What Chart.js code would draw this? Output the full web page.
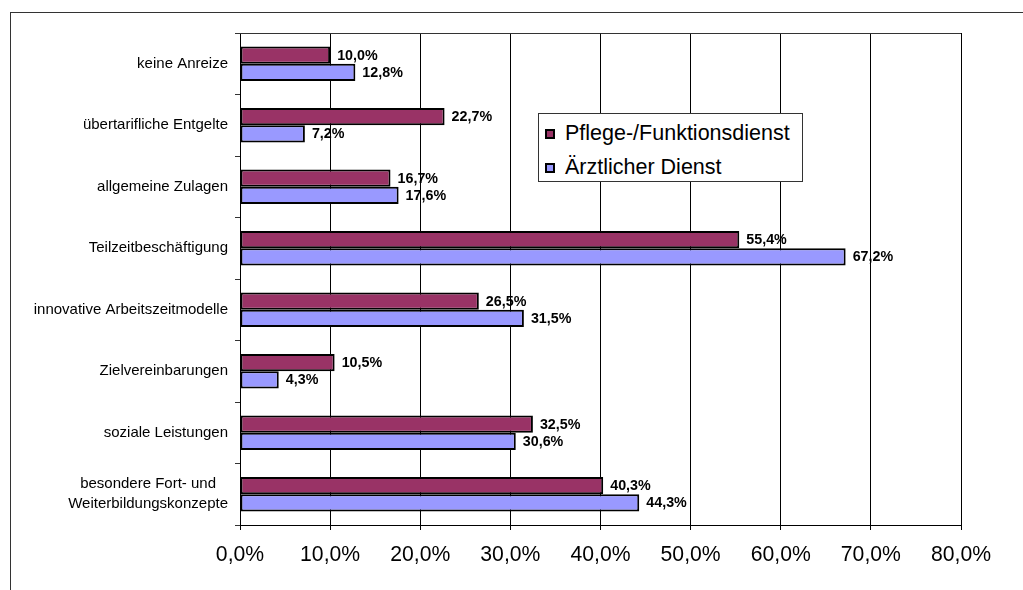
<!DOCTYPE html>
<html>
<head>
<title>Anreize</title>
<style>
  body { margin: 0; background: #fff; }
  #wrap { position: relative; width: 1023px; height: 590px; overflow: hidden; }
  #frame { position: absolute; left: 10px; top: 12px; width: 1100px; height: 700px;
           border-left: 1px solid #333; border-top: 1px solid #333; }
  #legend { position: absolute; left: 538px; top: 113px; width: 263px; height: 67px;
            border: 1px solid #333; background: #fff; font-family: Arial, "Liberation Sans", sans-serif;
            font-size: 21.5px; color: #000; }
  .item { position: absolute; left: 6px; height: 26px; line-height: 26px; white-space: nowrap; }
  .sq { position: absolute; left: 0; top: 9px; width: 6px; height: 6px; border: 2px solid #000; }
  .txt { position: absolute; left: 20px; top: 0; }
</style>
</head>
<body>
<div id="wrap">
  <div id="frame"></div>
  <canvas id="myChart" width="1023" height="590"></canvas>
  <div id="legend">
    <div class="item" style="top:6px"><span class="sq" style="background:#993366"></span><span class="txt">Pflege-/Funktionsdienst</span></div>
    <div class="item" style="top:40px"><span class="sq" style="background:#9999FF"></span><span class="txt">Ärztlicher Dienst</span></div>
  </div>
</div>
<script src="https://cdn.jsdelivr.net/npm/chart.js"></script>
<script>
// Kategorien (von oben nach unten)
const categories = [
  'keine Anreize',
  'übertarifliche Entgelte',
  'allgemeine Zulagen',
  'Teilzeitbeschäftigung',
  'innovative Arbeitszeitmodelle',
  'Zielvereinbarungen',
  'soziale Leistungen',
  ['besondere Fort- und', 'Weiterbildungskonzepte']
];
const pflege = [10.0, 22.7, 16.7, 55.4, 26.5, 10.5, 32.5, 40.3];
const aerzte = [12.8, 7.2, 17.6, 67.2, 31.5, 4.3, 30.6, 44.3];
const xTicks = [0, 10, 20, 30, 40, 50, 60, 70, 80];

const FONT = 'Arial, "Liberation Sans", sans-serif';

function pct(v) {
  return v.toFixed(1).replace('.', ',') + '%';
}

// Beschriftungen der Balken, Achsen und Kategorien selbst zeichnen
const labelPlugin = {
  id: 'labels',
  afterDatasetsDraw(chart) {
    const ctx = chart.ctx;
    const a = chart.chartArea;
    ctx.save();
    ctx.fillStyle = '#000';
    ctx.textBaseline = 'middle';

    // Werte an den Balken
    ctx.font = 'bold 14.3px ' + FONT;
    ctx.textAlign = 'left';
    chart.data.datasets.forEach((ds, i) => {
      chart.getDatasetMeta(i).data.forEach((bar, j) => {
        ctx.fillText(pct(ds.data[j]), bar.x + 7, bar.y + 0.5);
      });
    });

    // Rahmen oben
    ctx.strokeStyle = '#333';
    ctx.lineWidth = 1;
    ctx.beginPath();
    ctx.moveTo(a.left, a.top + 0.5);
    ctx.lineTo(a.right, a.top + 0.5);
    ctx.stroke();

    // x-Achse
    const x = chart.scales.x;
    ctx.font = '21.2px ' + FONT;
    ctx.textAlign = 'center';
    xTicks.forEach(v => {
      ctx.fillText(pct(v), x.getPixelForValue(v), 555);
    });

    // Kategorien
    const y = chart.scales.y;
    ctx.font = '15px ' + FONT;
    categories.forEach((c, i) => {
      const lines = Array.isArray(c) ? c : [c];
      const w = Math.max(...lines.map(l => ctx.measureText(l).width));
      const cx = a.left - 12 - w / 2;
      const cy = y.getPixelForValue(i);
      lines.forEach((l, k) => {
        ctx.fillText(l, cx, cy + (k - (lines.length - 1) / 2) * 20);
      });
    });
    ctx.restore();
  }
};

new Chart(document.getElementById('myChart'), {
  type: 'bar',
  data: {
    labels: categories,
    datasets: [
      { label: 'Pflege-/Funktionsdienst', data: pflege, backgroundColor: '#993366',
        borderColor: '#000', borderWidth: 2, borderSkipped: false },
      { label: 'Ärztlicher Dienst', data: aerzte, backgroundColor: '#9999FF',
        borderColor: '#000', borderWidth: 2, borderSkipped: false }
    ]
  },
  options: {
    indexAxis: 'y',
    responsive: false,
    animation: false,
    categoryPercentage: 0.56,
    barPercentage: 1.0,
    layout: { padding: { left: 0, right: 62, top: 33, bottom: 0 } },
    plugins: { legend: { display: false }, tooltip: { enabled: false } },
    scales: {
      x: {
        min: 0, max: 80,
        afterBuildTicks: s => { s.ticks = xTicks.map(v => ({ value: v })); },
        afterFit: s => { s.height = 65; },
        ticks: { display: false },
        grid: { color: '#000', lineWidth: 1, tickLength: 5 },
        border: { color: '#000', width: 1 }
      },
      y: {
        afterFit: s => { s.width = 240; },
        ticks: { display: false },
        grid: { offset: true, drawOnChartArea: false, color: '#333', tickLength: 5 },
        border: { color: '#000', width: 1 }
      }
    }
  },
  plugins: [labelPlugin]
});
</script>
</body>
</html>
